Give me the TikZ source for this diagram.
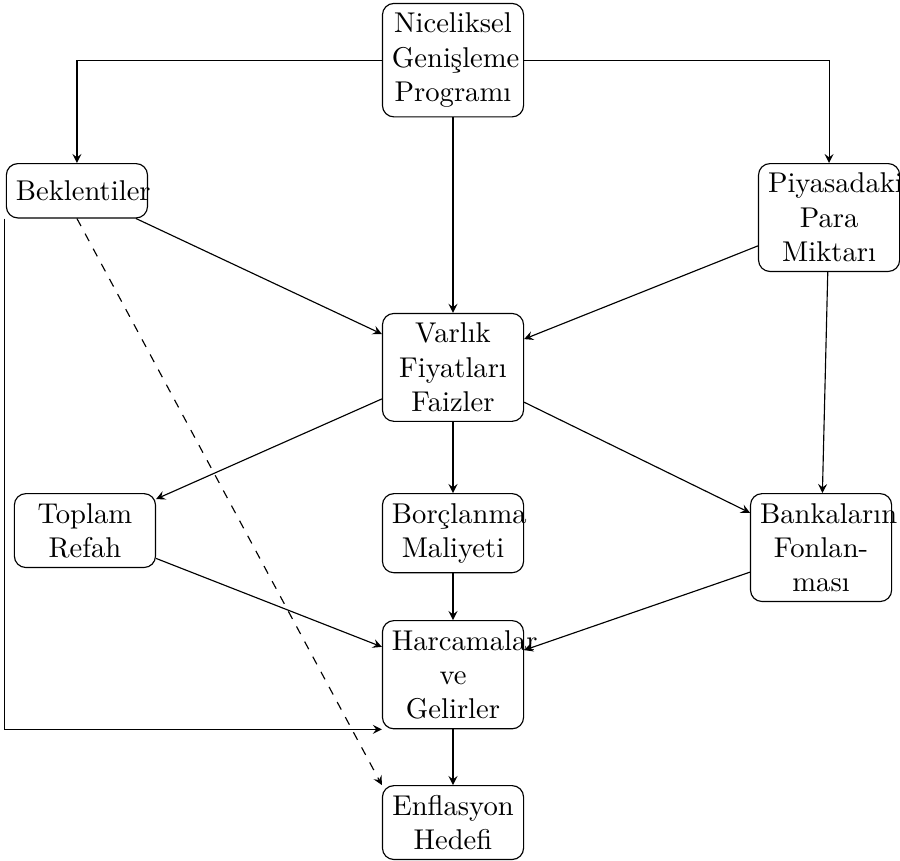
\documentclass[tikz,border=0pt]{standalone}
\usepackage{fontspec}
\usetikzlibrary{positioning, arrows}

\tikzset{
  kutu/.style={draw, rounded corners, text width=1.5cm, minimum height=19pt, align=center, anchor=north},
}

\begin{document}
\begin{tikzpicture}[on grid, >=stealth]
			\useasboundingbox (0,0) rectangle (314.7pt,-301pt);

			\node[kutu] (nic) at (158.4pt,-1pt) {Niceliksel\\Genişleme\\Programı};
			\node[kutu, below left=56pt and 131.5pt of nic.north, anchor=north] (bek) {Beklentiler};
			\node[kutu, below right=56pt and 131.5pt of nic.north, anchor=north] (piy) {Piyasadaki\\Para\\Miktarı};
			\node[kutu, below=108.4pt of nic.north, anchor=north] (var) {Varlık\\Fiyatları\\Faizler};
			\node[kutu, below left=63pt and 128.7pt of var.north, anchor=north] (top) {Toplam\\Refah};
			\node[kutu, below=63pt of var.north, anchor=north] (bor) {Borçlanma\\Maliyeti};
			\node[kutu, below right=63pt and 128.7pt of var.north, anchor=north] (ban) {Bankaların\\Fonlan-\\ması};
			\node[kutu, below=44.4pt of bor.north, anchor=north] (har) {Harcamalar\\ve\\Gelirler};
			\node[kutu, below=57.7pt of har.north, anchor=north] (enf) {Enflasyon\\Hedefi};

			\draw[->] (nic) -| (bek);
			\draw[->] (nic) -| (piy);
			\draw[->] (nic) -- (var);
			\draw[->] (bek) -- (var);
			\draw[->] (piy) -- (var);
			\draw[->] (piy) -- (ban);
			\draw[->] (var) -- (top);
			\draw[->] (var) -- (bor);
			\draw[->] (var) -- (ban);
			\draw[->] (top) -- (har);
			\draw[->] (bor) -- (har);
			\draw[->] (ban) -- (har);
			\draw[->] (har) -- (enf);
			\draw[->] ([xshift=-0.5pt]bek.south west) |- (har.south west);
			\draw[->, dashed] (bek.south) -- (enf.north west);

		\end{tikzpicture}
\end{document}
